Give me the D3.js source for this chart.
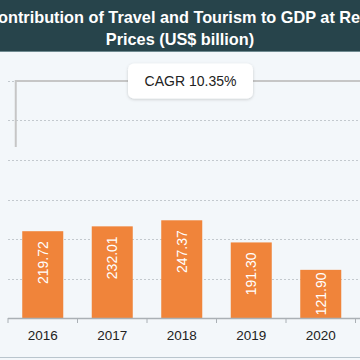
<!DOCTYPE html>
<html>
<head>
<meta charset="utf-8">
<script src="https://cdn.jsdelivr.net/npm/d3@7"></script>
<style>
  html, body { margin: 0; padding: 0; background: #f3f7fa; }
  svg { display: block; font-family: "Liberation Sans", Arial, sans-serif; }
</style>
</head>
<body>
<div id="chart"></div>
<script>
var w = 360,
    h = 360;

// data
var years = ["2016", "2017", "2018", "2019", "2020"];
var values = [219.72, 232.01, 247.37, 191.30, 121.90];
var gridTicks = [100, 200, 300, 400, 500, 600];
var titleLines = ["Contribution of Travel and Tourism to GDP at Real", "Prices (US$ billion)"];
var cagrLabel = "CAGR 10.35%";

var svg = d3.select("#chart").append("svg")
    .attr("width", w)
    .attr("height", h);

svg.append("rect")
    .attr("width", w).attr("height", h)
    .attr("fill", "#f3f7fa");

// header band
svg.append("rect")
    .attr("width", w).attr("height", 52)
    .attr("fill", "#27444b");
svg.append("line")
    .attr("x1", 0).attr("x2", w)
    .attr("y1", 51.5).attr("y2", 51.5)
    .attr("stroke", "#6f8a90").attr("stroke-width", 1);

svg.append("g").selectAll("text")
    .data(titleLines)
  .enter().append("text")
    .attr("x", w / 2)
    .attr("y", function(d, i) { return 22.5 + i * 22; })
    .attr("text-anchor", "middle")
    .attr("fill", "#fff")
    .attr("font-weight", "bold")
    .attr("font-size", 16.3)
    .text(function(d) { return d; });

var x = d3.scaleBand()
    .domain(years)
    .range([8, 355.5])
    .paddingInner(0.41)
    .paddingOuter(0.205);

var y = d3.scaleLinear()
    .domain([0, 600])
    .range([318, 81]);

var step = x.step();

// dotted gridlines
svg.append("g").selectAll("line")
    .data(gridTicks)
  .enter().append("line")
    .attr("x1", 8).attr("x2", w)
    .attr("y1", function(d) { return Math.round(y(d)) + 0.5; })
    .attr("y2", function(d) { return Math.round(y(d)) + 0.5; })
    .attr("stroke", "#c3c9ce")
    .attr("stroke-dasharray", "2,2");

// bars
svg.append("g").selectAll("rect")
    .data(values)
  .enter().append("rect")
    .attr("x", function(d, i) { return x(years[i]); })
    .attr("y", function(d) { return y(d); })
    .attr("width", x.bandwidth())
    .attr("height", function(d) { return y(0) - y(d); })
    .attr("fill", "#f0843a");

// value labels, rotated, inside top of bar (pulled down to fit short bars)
svg.append("g").selectAll("text")
    .data(values)
  .enter().append("text")
    .attr("text-anchor", "end")
    .attr("dy", "0.35em")
    .attr("fill", "#fff")
    .attr("font-size", 14)
    .text(function(d) { return d3.format(".2f")(d); })
    .attr("transform", function(d, i) {
      var len = this.getComputedTextLength(),
          barH = y(0) - y(d),
          off = Math.min(10, (barH - len) / 2);
      return "translate(" + (x(years[i]) + x.bandwidth() / 2) + "," + (y(d) + off) + ") rotate(-90)";
    });

// x axis
var axisG = svg.append("g");
axisG.append("line")
    .attr("x1", 8).attr("x2", w)
    .attr("y1", y(0) + 0.5).attr("y2", y(0) + 0.5)
    .attr("stroke", "#aab0b5").attr("stroke-width", 1.5);

var tickPos = years.map(function(d) { return x(d) - step * x.paddingInner() / 2; });
tickPos.push(tickPos[tickPos.length - 1] + step);
axisG.selectAll(".tick")
    .data(tickPos)
  .enter().append("line")
    .attr("x1", function(d) { return d; })
    .attr("x2", function(d) { return d; })
    .attr("y1", y(0)).attr("y2", y(0) + 5)
    .attr("stroke", "#aab0b5");

axisG.selectAll("text")
    .data(years)
  .enter().append("text")
    .attr("x", function(d) { return x(d) + x.bandwidth() / 2; })
    .attr("y", y(0) + 17)
    .attr("dy", "0.35em")
    .attr("text-anchor", "middle")
    .attr("fill", "#222")
    .attr("font-size", 13.5)
    .text(function(d) { return d; });

// bottom border
svg.append("line")
    .attr("x1", 0).attr("x2", w)
    .attr("y1", 357.5).attr("y2", 357.5)
    .attr("stroke", "#b9c5cd");

// CAGR bracket
var bx = x(years[0]) - 6.5,
    by = y(600);
svg.append("path")
    .attr("d", "M" + bx + "," + (by + 66) + "V" + by + "H" + w)
    .attr("fill", "none")
    .attr("stroke", "#c6c6c6")
    .attr("stroke-width", 2);

var defs = svg.append("defs");
var f = defs.append("filter").attr("id", "shadow")
    .attr("x", "-20%").attr("y", "-30%").attr("width", "140%").attr("height", "160%");
f.append("feDropShadow")
    .attr("dx", 0).attr("dy", 1)
    .attr("stdDeviation", 1.5)
    .attr("flood-color", "#000")
    .attr("flood-opacity", 0.18);

var boxW = 125, boxH = 35, boxCx = 190.5;
svg.append("rect")
    .attr("x", boxCx - boxW / 2)
    .attr("y", by - boxH / 2)
    .attr("width", boxW).attr("height", boxH)
    .attr("rx", 6)
    .attr("fill", "#fff")
    .attr("filter", "url(#shadow)");

svg.append("text")
    .attr("x", boxCx)
    .attr("y", by)
    .attr("dy", "0.35em")
    .attr("text-anchor", "middle")
    .attr("fill", "#222")
    .attr("font-size", 14)
    .text(cagrLabel);
</script>
</body>
</html>
